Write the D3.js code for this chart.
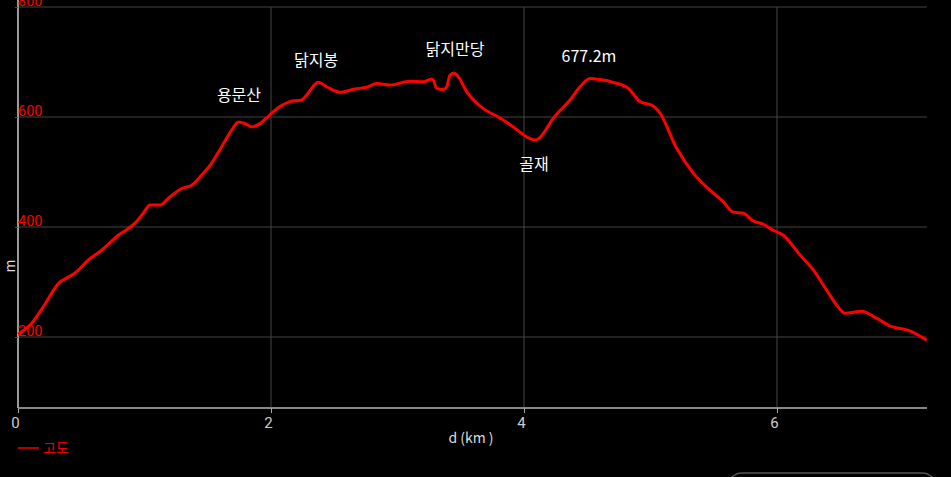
<!DOCTYPE html>
<html><head><meta charset="utf-8">
<script src="https://cdn.jsdelivr.net/npm/d3@7"></script>
<style>html,body{margin:0;padding:0;background:#000;overflow:hidden}svg{display:block}</style>
</head><body>
<svg id="c" width="951" height="477"></svg>
<script>
const distKm = [0,0.108,0.2,0.332,0.385,0.464,0.556,0.662,0.793,0.925,0.99,1.043,1.123,1.202,1.294,1.373,1.439,1.531,1.61,1.689,1.742,1.794,1.847,1.913,1.992,2.071,2.15,2.243,2.282,2.374,2.44,2.545,2.664,2.757,2.836,2.941,3.099,3.204,3.27,3.283,3.31,3.362,3.389,3.415,3.447,3.481,3.547,3.652,3.81,3.915,4.021,4.087,4.127,4.232,4.364,4.443,4.522,4.601,4.706,4.825,4.917,5.022,5.075,5.207,5.338,5.47,5.575,5.654,5.734,5.813,5.892,5.971,6.05,6.182,6.287,6.393,6.472,6.538,6.67,6.788,6.893,7.051,7.184];
const elevM = [205,225,255,300,307,319,340,358,385,407,425,440,440,455,470,476,491,516,546,576,591,588,582,588,604,619,628,631,640,663,655,645,651,654,661,658,665,664,669,667,652,650,655,676,680,673,646,620,598,582,564,558,563,598,631,655,670,668,663,652,628,620,607,543,498,467,446,427,425,411,405,394,385,349,322,285,258,243,247,234,220,211,194];
const xTicks = [0,2,4,6];
const yTicks = [200,400,600,800];
const labelNames = ["용문산","닭지봉","닭지만당","677.2m","골재"];
const labelKm = [1.747,2.356,3.455,4.514,4.079];
const labelM = [629,693,713,700,504];
const seriesName = "고도";
const xTitle = "d (km )";
const yTitle = "m";

const svg = d3.select("#c");
const L = 18, R = 927, T = 7, B = 408;
const x = d3.scaleLinear().domain([0, 7.186]).range([L, R]);
const y = d3.scaleLinear().domain([800 - (B - T) / 0.55, 800]).range([B, T]);
const font = "'Noto Sans CJK KR','Noto Sans',sans-serif";
const numFont = "Roboto,'Noto Sans',sans-serif";

// grid
const g = svg.append("g");
g.selectAll(".gy").data(yTicks).enter().append("line")
  .attr("x1", L).attr("x2", R).attr("y1", d => y(d)).attr("y2", d => y(d))
  .attr("stroke", "#444").attr("stroke-width", 1);
g.selectAll(".gx").data(xTicks.filter(d => d > 0)).enter().append("line")
  .attr("x1", d => x(d)).attr("x2", d => x(d)).attr("y1", T).attr("y2", B)
  .attr("stroke", "#444").attr("stroke-width", 1);

// axes
const xAxis = d3.axisBottom(x).tickValues(xTicks).tickSize(5).tickFormat(d3.format("d"));
const xa = svg.append("g").attr("transform", `translate(0,${B})`).call(xAxis);
xa.select(".domain").attr("stroke", "#888").attr("stroke-width", 2).attr("d", `M${L},0H${R}`);
xa.selectAll(".tick line").attr("stroke", "#aaa");
xa.selectAll(".tick text").attr("fill", "#ccc").attr("font-size", 15).attr("font-family", numFont)
  .attr("dx", -3).attr("y", 20).attr("dy", 0);

const yAxis = d3.axisLeft(y).tickValues(yTicks).tickSize(3).tickFormat(d3.format("d"));
const ya = svg.append("g").attr("transform", `translate(${L},0)`).call(yAxis);
ya.select(".domain").attr("stroke", "#999").attr("stroke-width", 2).attr("d", `M0,${T - 10}V${B}`);
ya.selectAll(".tick line").attr("stroke", "#f00");
ya.selectAll(".tick text").attr("fill", "#f00").attr("font-size", 14.5).attr("font-family", numFont)
  .attr("text-anchor", "start").attr("x", 0).attr("dy", -1.5).attr("dominant-baseline", "auto");

// line
const line = d3.line().x((d, i) => x(distKm[i])).y(d => y(d)).curve(d3.curveMonotoneX);
svg.append("path").datum(elevM).attr("d", line).attr("fill", "none")
  .attr("stroke", "#ff0000").attr("stroke-width", 3).attr("stroke-linejoin", "round");

// annotations
svg.selectAll(".ann").data(labelNames).enter().append("text")
  .attr("x", (d, i) => x(labelKm[i])).attr("y", (d, i) => y(labelM[i]))
  .attr("text-anchor", "middle").attr("fill", "#fff").attr("font-size", 16).attr("font-family", font)
  .text(d => d);

// titles
svg.append("text").attr("x", 471).attr("y", 443).attr("text-anchor", "middle")
  .attr("fill", "#ddd").attr("font-size", 14).attr("font-family", font).text(xTitle);
svg.append("text").attr("transform", "translate(15,266) rotate(-90)").attr("text-anchor", "middle")
  .attr("fill", "#ddd").attr("font-size", 14).attr("font-family", font).text(yTitle);

// legend
svg.append("line").attr("x1", 18).attr("x2", 39).attr("y1", 448).attr("y2", 448).attr("stroke", "#e00").attr("stroke-width", 1.5);
svg.append("text").attr("x", 43).attr("y", 453).attr("fill", "#e00").attr("font-size", 14).attr("font-family", font).text(seriesName);

// bottom-right rounded box
svg.append("rect").attr("x", 728).attr("y", 473).attr("width", 208).attr("height", 40).attr("rx", 14)
  .attr("fill", "none").attr("stroke", "#555").attr("stroke-width", 1.5);
</script>
</body></html>
